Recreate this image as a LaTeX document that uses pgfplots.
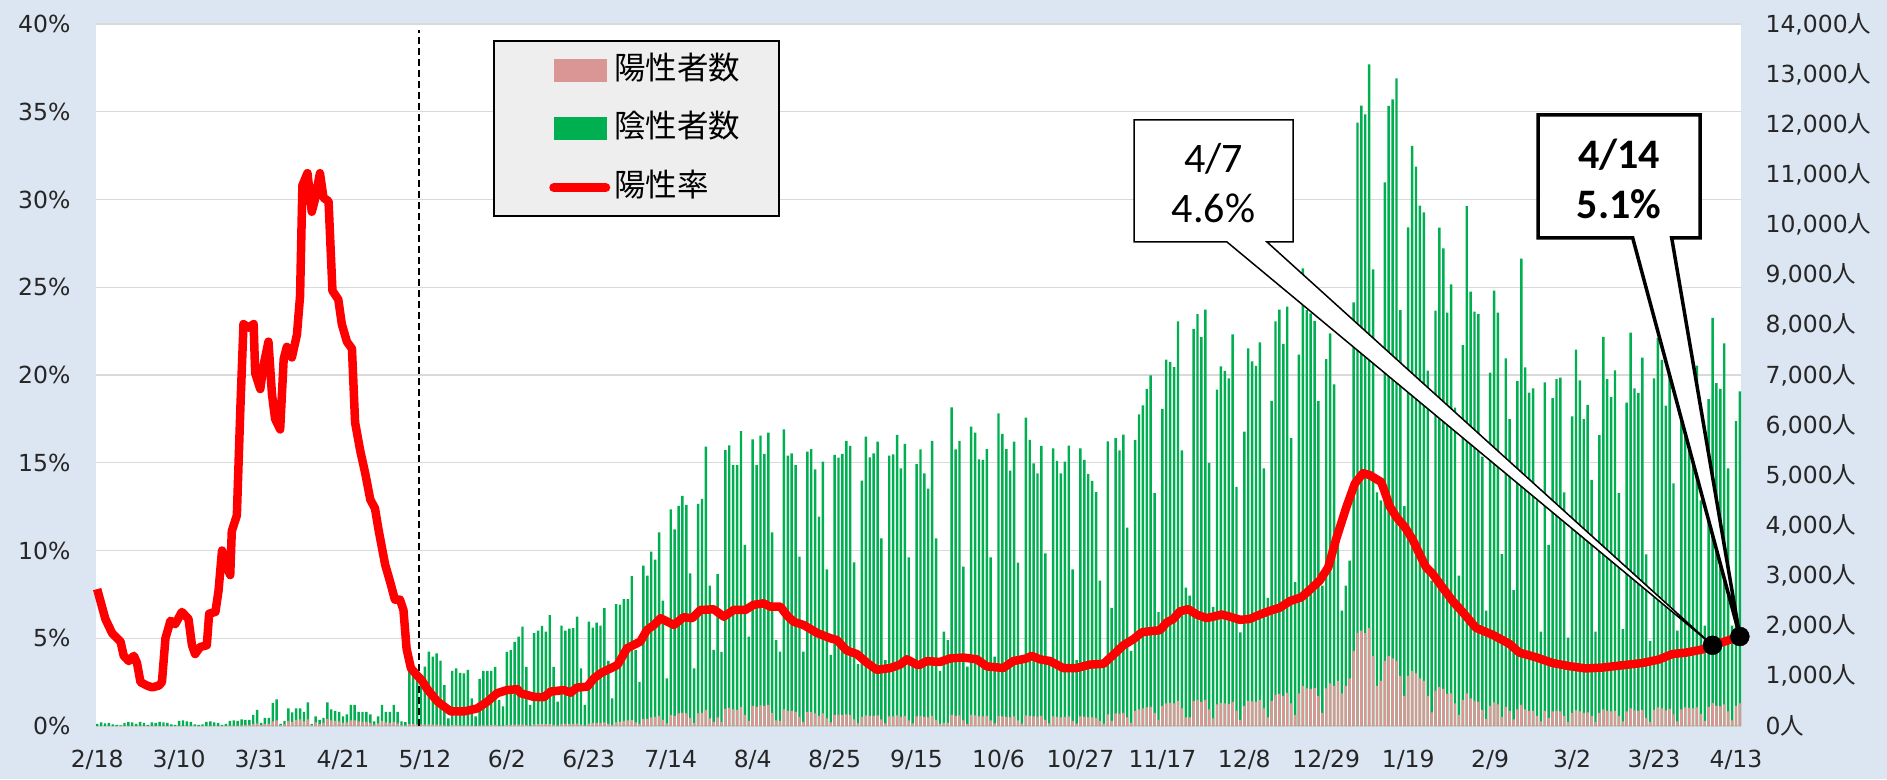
\documentclass[border=0pt]{standalone}
\usepackage{fontspec}
\usepackage{pgfplots}
\usepackage{pgfplotstable}
\pgfplotsset{compat=1.18}
\setmainfont{DejaVu Sans}
\newfontfamily\jpf{Noto Sans CJK JP}
\newfontfamily\calf{Carlito}
\definecolor{bgblue}{RGB}{220,230,242}
\definecolor{posc}{RGB}{217,150,148}
\definecolor{negc}{RGB}{0,176,80}
\definecolor{gridc}{RGB}{217,217,217}
\definecolor{legbg}{RGB}{238,238,238}
\newcommand{\nin}[1]{#1{\jpf 人}}

\pgfplotstableread[row sep=\\]{
idx tot pos\\
0 40 0\\1 70 1\\2 50 0\\3 60 1\\4 30 0\\5 20 0\\6 10 0\\
7 60 1\\8 80 1\\9 70 1\\10 40 0\\11 80 2\\12 60 1\\13 20 0\\
14 70 1\\15 60 1\\16 80 2\\17 70 1\\18 60 1\\19 30 0\\20 20 0\\
21 100 2\\22 110 3\\23 90 2\\24 80 2\\25 30 1\\26 20 0\\27 30 1\\
28 80 2\\29 90 3\\30 70 3\\31 60 2\\32 20 1\\33 40 2\\34 100 5\\
35 110 6\\36 100 8\\37 130 12\\38 120 15\\39 120 20\\40 220 35\\41 320 50\\
42 60 15\\43 160 40\\44 160 45\\45 460 90\\46 530 110\\47 40 15\\48 100 30\\
49 350 100\\50 270 80\\51 350 120\\52 350 130\\53 280 90\\54 470 130\\55 40 15\\
56 190 70\\57 120 40\\58 160 60\\59 470 140\\60 330 110\\61 300 100\\62 280 90\\
63 190 60\\64 230 70\\65 420 110\\66 420 110\\67 280 90\\68 280 80\\69 280 80\\
70 230 60\\71 90 25\\72 190 50\\73 420 100\\74 280 70\\75 280 60\\76 420 80\\
77 280 50\\78 90 15\\79 75 12\\80 1120 40\\81 1080 35\\82 1030 30\\83 990 30\\
84 1183 25\\85 1482 30\\86 1383 25\\87 1449 25\\88 1303 20\\89 817 12\\90 150 4\\
91 1100 15\\92 1150 15\\93 1060 12\\94 1050 12\\95 1120 12\\96 550 6\\97 190 3\\
98 940 10\\99 1100 12\\100 1100 12\\101 1100 15\\102 1180 15\\103 520 8\\104 390 5\\
105 1480 15\\106 1515 20\\107 1680 25\\108 1780 25\\109 1980 30\\110 1180 15\\111 420 8\\
112 1850 30\\113 1900 35\\114 1995 40\\115 1880 35\\116 2210 40\\117 1180 20\\118 485 10\\
119 2000 35\\120 1900 40\\121 1940 40\\122 1950 40\\123 2180 45\\124 1150 25\\125 420 10\\
126 2080 45\\127 1960 55\\128 2060 60\\129 2000 60\\130 2350 70\\131 1300 40\\132 550 15\\
133 2430 70\\134 2420 80\\135 2530 100\\136 2530 110\\137 2990 120\\138 1515 70\\139 880 40\\
140 3200 140\\141 3000 140\\142 3480 170\\143 3320 180\\144 3860 200\\145 2500 120\\146 950 50\\
147 4320 220\\148 3920 200\\149 4390 250\\150 4590 260\\151 4410 250\\152 3045 160\\153 1150 60\\
154 4430 250\\155 4530 260\\156 5570 320\\157 2800 150\\158 1520 80\\159 3030 170\\160 1480 80\\
161 5504 340\\162 5597 360\\163 5205 330\\164 5205 320\\165 5883 380\\166 3610 220\\167 1780 100\\
168 5717 400\\169 5205 380\\170 5790 410\\171 5425 400\\172 5850 420\\173 3862 260\\174 1714 110\\
175 1482 100\\176 5917 330\\177 5391 300\\178 5438 300\\179 5205 280\\180 3377 180\\181 1482 80\\
182 5471 280\\183 5524 280\\184 5119 250\\185 4175 200\\186 5272 250\\187 3124 150\\188 1416 70\\
189 5405 220\\190 5352 220\\191 5425 220\\192 5684 230\\193 5584 220\\194 3264 130\\195 1236 50\\
196 4893 180\\197 5770 210\\198 5358 200\\199 5438 200\\200 5671 210\\201 3743 130\\202 1316 50\\
203 5391 190\\204 5418 190\\205 5804 210\\206 5139 180\\207 5624 200\\208 3364 110\\209 1349 50\\
210 5225 190\\211 5518 200\\212 5039 180\\213 4733 170\\214 5684 200\\215 3743 120\\216 1100 40\\
217 1881 60\\218 1714 60\\219 6355 220\\220 5518 200\\221 5684 210\\222 3178 110\\223 1183 40\\
224 5970 220\\225 5850 210\\226 5318 190\\227 5305 190\\228 5524 200\\229 3364 110\\230 1383 50\\
231 6236 200\\232 5824 190\\233 5524 180\\234 5092 170\\235 5671 190\\236 3257 110\\237 1349 45\\
238 6149 210\\239 5704 200\\240 5239 190\\241 5039 180\\242 5584 200\\243 3444 120\\244 1300 50\\
245 5538 190\\246 5285 180\\247 5039 170\\248 5272 180\\249 5591 190\\250 3124 100\\251 1316 45\\
252 5538 190\\253 5305 180\\254 5026 170\\255 4887 170\\256 4663 160\\257 2900 100\\258 1200 45\\
259 5676 230\\260 2358 100\\261 5739 250\\262 5497 240\\263 5811 260\\264 3954 170\\265 1500 60\\
266 5703 300\\267 6214 330\\268 6393 350\\269 6725 370\\270 6994 380\\271 4645 260\\272 2269 120\\
273 6322 400\\274 7308 450\\275 7263 460\\276 7156 450\\277 8070 500\\278 5497 350\\279 2762 170\\
280 2600 170\\281 7918 500\\282 8214 520\\283 7756 480\\284 8303 520\\285 5246 330\\286 2376 150\\
287 6707 430\\288 7174 460\\289 7084 450\\290 6931 440\\291 7810 480\\292 4770 300\\293 1865 120\\
294 5873 400\\295 7532 500\\296 7272 490\\297 7183 480\\298 7649 520\\299 5138 350\\300 2556 170\\
301 6483 500\\302 8070 620\\303 8303 640\\304 7622 600\\305 8366 660\\306 5739 450\\307 2869 220\\
308 7407 650\\309 9127 800\\310 8296 750\\311 8230 740\\312 8077 760\\313 6481 600\\314 2800 260\\
315 7319 750\\316 7831 850\\317 6814 800\\318 3800 900\\319 2300 650\\320 2800 800\\321 3300 950\\
322 8449 1500\\323 12032 1850\\324 12371 1900\\325 12199 1850\\326 13196 1950\\327 9107 1400\\328 4660 800\\
329 4500 900\\330 10842 1300\\331 12365 1400\\332 12498 1350\\333 12916 1300\\334 8296 1000\\335 4387 600\\
336 9945 1000\\337 11567 1100\\338 11155 1050\\339 10377 950\\340 10244 900\\341 7086 600\\342 2900 270\\
343 8283 700\\344 9938 780\\345 9526 740\\346 8243 640\\347 8808 650\\348 6348 450\\349 3000 220\\
350 7598 520\\351 10370 650\\352 8662 550\\353 8263 500\\354 8216 480\\355 5371 320\\356 2300 140\\
357 7046 400\\358 8682 470\\359 8243 430\\360 3430 180\\361 7332 380\\362 6122 300\\363 2712 130\\
364 6880 330\\365 9320 420\\366 7153 330\\367 6647 300\\368 6734 300\\369 4500 200\\370 1881 90\\
371 6854 300\\372 3610 160\\373 6541 290\\374 6920 300\\375 6947 290\\376 4660 200\\377 1760 80\\
378 6175 260\\379 7505 310\\380 6893 290\\381 6122 260\\382 6402 270\\383 4906 200\\384 1881 80\\
385 5803 260\\386 7758 330\\387 6920 300\\388 6561 290\\389 7093 300\\390 4646 200\\391 1934 90\\
392 6448 290\\393 7844 350\\394 6734 310\\395 6641 300\\396 7346 320\\397 3423 160\\398 1700 80\\
399 6933 320\\400 7738 370\\401 7300 350\\402 6389 310\\403 7000 340\\404 4840 230\\405 1900 90\\
406 6500 330\\407 7200 370\\408 7000 360\\409 6800 350\\410 7186 370\\411 4500 240\\412 2000 100\\
413 6521 380\\414 8137 460\\415 6840 400\\416 6721 390\\417 7631 430\\418 5138 290\\419 2000 110\\
420 6082 400\\421 6674 450\\
}\bars

\pgfplotstableread[row sep=\\]{
x y\\
0 7.8\\2.1 6.1\\3.8 5.3\\6.0 4.8\\6.8 4.0\\8.1 3.7\\9.4 4.0\\10.2 3.6\\11.1 2.5\\12.8 2.3\\
14.1 2.2\\15.8 2.3\\16.6 2.5\\17.5 5.0\\18.8 6.0\\20.0 5.8\\21.7 6.5\\23.4 6.1\\24.3 4.6\\25.1 4.1\\
26.4 4.5\\28.1 4.6\\28.7 6.4\\30.3 6.5\\31.1 7.7\\32.0 10.0\\32.8 9.3\\34.1 8.6\\34.5 11.1\\35.8 12.0\\
36.7 18.1\\37.5 22.9\\38.8 22.7\\40.1 22.9\\40.5 20.1\\41.8 19.2\\42.6 20.5\\43.9 21.9\\44.8 18.9\\45.6 17.5\\
46.9 16.9\\47.8 20.9\\48.6 21.6\\49.9 21.0\\51.2 22.3\\52.0 24.5\\52.6 30.8\\53.9 31.5\\55.0 29.3\\55.7 29.9\\
57.1 31.5\\58.0 30.1\\59.3 29.9\\60.3 24.8\\61.8 24.3\\62.7 22.9\\64.0 21.9\\65.3 21.5\\66.1 17.3\\67.4 15.7\\
68.7 14.4\\70.0 12.9\\71.2 12.4\\72.1 11.2\\73.8 9.2\\75.1 8.2\\76.3 7.2\\77.6 7.2\\78.5 6.6\\79.3 4.4\\
80.4 3.3\\81.9 2.9\\83.2 2.6\\84.6 2.1\\87.2 1.4\\90.6 0.83\\94 0.83\\97.4 1.0\\100 1.39\\102.5 1.87\\
105.1 2.05\\107.7 2.1\\108.5 1.87\\111.9 1.66\\114.5 1.64\\116.2 1.96\\119.6 2.05\\121.3 1.9\\123 2.19\\125.6 2.24\\
127.3 2.71\\129 3.0\\130.7 3.19\\133.3 3.47\\134.1 3.76\\135.8 4.43\\139.2 4.81\\140.9 5.47\\142.7 5.76\\144.4 6.14\\
147.8 5.76\\150.3 6.2\\152.5 6.14\\154.6 6.61\\158 6.65\\160.6 6.23\\163.1 6.61\\166.1 6.61\\168.2 6.9\\170.8 6.99\\
172.5 6.8\\175.1 6.8\\176.8 6.3\\178.5 5.94\\181.1 5.75\\184.5 5.3\\187.9 5.0\\189.6 4.9\\192.1 4.3\\194.7 4.1\\
197.3 3.6\\199.8 3.2\\203.2 3.3\\205.8 3.5\\207.5 3.8\\210.5 3.45\\212.6 3.7\\216 3.65\\218.6 3.85\\222 3.9\\
225.4 3.8\\228 3.4\\232.2 3.3\\234.8 3.7\\238.2 3.85\\239.5 4.0\\241.6 3.8\\244.2 3.7\\247.6 3.3\\251 3.3\\
254.4 3.5\\257.9 3.54\\260.4 4.05\\263 4.6\\265.6 4.95\\267.7 5.33\\269 5.38\\272.4 5.46\\274.1 5.9\\275.8 6.1\\
277.5 6.53\\279.6 6.66\\281.8 6.35\\284.3 6.15\\286 6.23\\288.2 6.35\\290.3 6.23\\292.9 6.05\\295.4 6.1\\298 6.35\\
300.5 6.56\\303.1 6.74\\305.7 7.12\\308.6 7.33\\310.8 7.76\\313.3 8.28\\315.5 9.04\\317.6 10.7\\320.2 12.5\\322.3 13.8\\
324.4 14.4\\326.1 14.3\\329.1 13.9\\331.3 12.5\\333 11.9\\335.1 11.35\\337.2 10.6\\338.9 9.8\\340.6 9.04\\342.3 8.66\\
344.8 7.89\\347.4 7.12\\350 6.48\\353.4 5.59\\357.6 5.2\\361.9 4.69\\364.5 4.18\\368.7 3.92\\373 3.59\\377.3 3.41\\
381.5 3.28\\385.8 3.33\\390.9 3.46\\396 3.59\\400.3 3.79\\403.7 4.1\\407.1 4.18\\411.4 4.36\\414 4.6\\416.5 4.77\\
421 5.1\\
}\rate

\begin{document}
\begin{tikzpicture}[x=1pt,y=1pt]
\useasboundingbox (0,0) rectangle (1887,779);
\fill[bgblue] (0,0) rectangle (1887,779);
\begin{axis}[
  at={(96pt,53pt)}, anchor=south west, scale only axis,
  width=1645pt, height=702pt,
  xmin=-0.3, xmax=421.3, ymin=0, ymax=14000,
  scaled y ticks=false, scaled x ticks=false,
  axis background/.style={fill=white},
  axis line style={draw=none},
  tick style={draw=none},
  major tick length=0pt,
  xtick={0,21,...,420},
  xticklabels={2/18,3/10,3/31,4/21,5/12,6/2,6/23,7/14,8/4,8/25,9/15,10/6,10/27,11/17,12/8,12/29,1/19,2/9,3/2,3/23,4/13},
  ytick={0,1000,...,14000},
  yticklabels={\nin{0},{\nin{1,000}},{\nin{2,000}},{\nin{3,000}},{\nin{4,000}},{\nin{5,000}},{\nin{6,000}},{\nin{7,000}},{\nin{8,000}},{\nin{9,000}},{\nin{10,000}},{\nin{11,000}},{\nin{12,000}},{\nin{13,000}},{\nin{14,000}}},
  ytick pos=right, yticklabel pos=right,
  extra y ticks={0,1750,3500,5250,7000,8750,10500,12250,14000},
  extra y tick labels={},
  extra y tick style={grid=major},
  major grid style={draw=gridc, line width=1.3pt},
  tick label style={font=\fontsize{23.5}{28}\selectfont, text=black!85},
  xticklabel style={yshift=-21pt},
  yticklabel style={xshift=21pt},
]
\addplot[ybar, bar width=0.62, fill=negc, draw=none] table[x=idx, y=tot] {\bars};
\addplot[ybar, bar width=0.62, fill=posc, draw=none] table[x=idx, y=pos] {\bars};
\draw[black, line width=2pt, dash pattern=on 7pt off 4pt] (axis cs:82.6,0) -- (axis cs:82.6,13880);
\coordinate (t7) at (axis cs:414,1610);
\coordinate (t14) at (axis cs:421,1785);
\end{axis}

% legend box
\draw[line width=1.3pt, fill=legbg] (494,563) rectangle (779,738);

% callouts
\draw[line width=1.5pt, fill=white, line join=miter] (1134,659) -- (1293,659) -- (1293,537) -- (1267,537) -- (t7) -- (1227,537) -- (1134,537) -- cycle;
\node[font=\calf\fontsize{42}{50}\selectfont, align=center] at (1213.5,596) {4/7\\4.6\%};
\draw[line width=3.5pt, fill=white, line join=miter] (1538,664) -- (1700,664) -- (1700,541) -- (1671.7,541) -- (t14) -- (1632.7,541) -- (1538,541) -- cycle;
\node[font=\calf\bfseries\fontsize{42}{50}\selectfont, align=center] at (1619,600) {4/14\\5.1\%};

\begin{axis}[
  at={(96pt,53pt)}, anchor=south west, scale only axis,
  width=1645pt, height=702pt,
  xmin=-0.3, xmax=421.3, ymin=0, ymax=40,
  scaled y ticks=false,
  axis line style={draw=none},
  tick style={draw=none},
  major tick length=0pt,
  xtick=\empty,
  ytick={0,5,...,40},
  yticklabels={0\%,5\%,10\%,15\%,20\%,25\%,30\%,35\%,40\%},
  ytick pos=left,
  tick label style={font=\fontsize{23.5}{28}\selectfont, text=black!85},
  yticklabel style={xshift=-22pt},
  clip=false,
  legend cell align=left,
  legend style={at={(0.2754,0.9587)}, anchor=north west, draw=none, fill=none,
    inner sep=0pt, row sep=30pt, column sep=4pt, nodes={inner sep=0pt},
    font=\jpf\fontsize{31.5}{36}\selectfont},
]
\addlegendimage{legend image code/.code={\fill[posc] (0pt,-14pt) rectangle (52pt,8pt);}}
\addlegendentry{陽性者数}
\addlegendimage{legend image code/.code={\fill[negc] (0pt,-14pt) rectangle (52pt,8pt);}}
\addlegendentry{陰性者数}
\addplot[color=red, line width=8.5pt, line join=round,
  legend image code/.code={\draw[red, line width=9pt, line cap=round] (0pt,-4pt) -- (52pt,-4pt);}]
  table[x=x, y=y] {\rate};
\addlegendentry{陽性率}
\addplot[only marks, mark=*, mark size=9.5pt, black, forget plot] coordinates {(414,4.6) (421,5.1)};
\end{axis}
\end{tikzpicture}
\end{document}
